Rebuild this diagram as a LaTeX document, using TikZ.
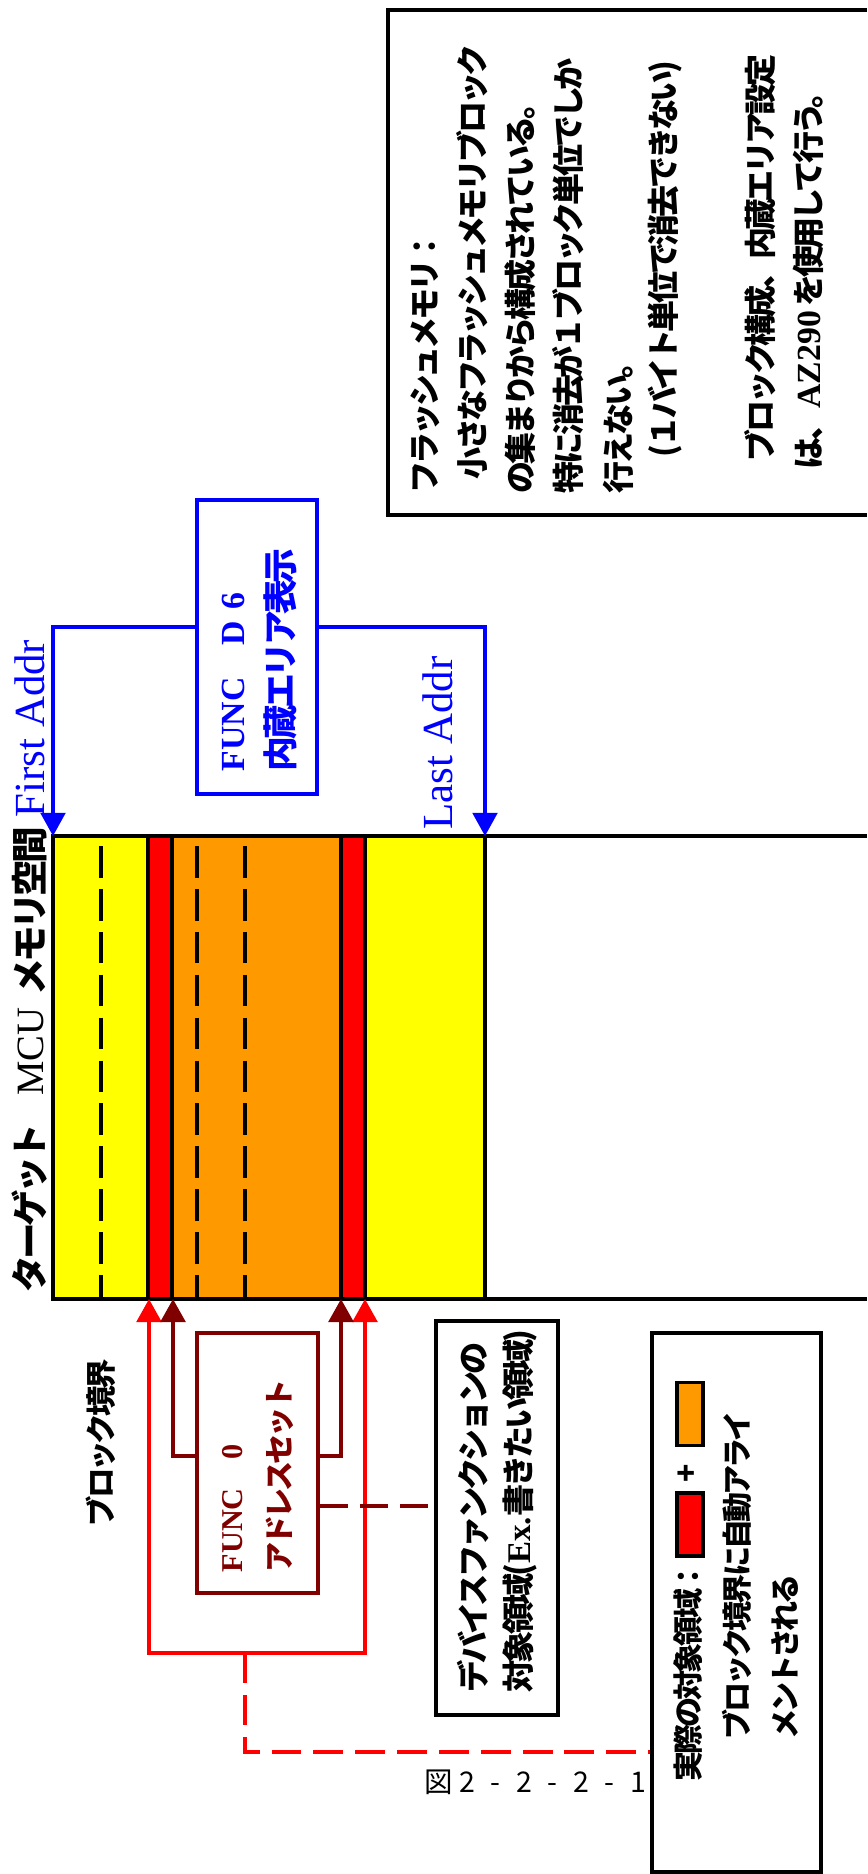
\documentclass[tikz,border=0pt]{standalone}
\usepackage{fontspec}
\setmainfont{Noto Sans CJK JP}[LetterSpace=-10]
\newfontfamily\capfont{Noto Sans CJK JP}
\newfontfamily\ser{Liberation Serif}
\usetikzlibrary{arrows.meta}
\newcommand\fsz[1]{\fontsize{#1}{#1}\selectfont}
\newcommand\capc[1]{\makebox[8.1pt]{#1}}
\definecolor{myyellow}{HTML}{FFFF00}
\definecolor{myorange}{HTML}{FF9900}
\definecolor{myred}{HTML}{FF0000}
\definecolor{mydark}{HTML}{800000}
\definecolor{myblue}{HTML}{0000FF}
\tikzset{
  >={Triangle[width=7pt,length=6.6pt]},
  memline/.style={line width=0.95pt},
  stripedash/.style={line width=1.05pt, dash pattern=on 9pt off 3.2pt},
  txt/.style={rotate=90, anchor=west, inner sep=0pt, font=\bfseries},
  lat/.style={rotate=90, anchor=west, inner sep=0pt, font=\ser\fsz{12.2pt}, text=myblue},
  bluebox/.style={draw=myblue, line width=1pt, inner sep=0pt, minimum width=1.2cm, minimum height=2.94cm},
  dkbox/.style={draw=mydark, line width=1.1pt, inner sep=0pt, minimum width=1.21cm, minimum height=2.6cm},
  blkbox/.style={draw=black, line width=1.15pt, inner sep=0pt},
  swatch/.style={draw=black, line width=0.9pt, inner sep=0pt, minimum width=0.26cm, minimum height=0.63cm},
  bluearr/.style={draw=myblue, line width=1pt, ->},
  dkarr/.style={draw=mydark, line width=1.3pt, ->},
  redarr/.style={draw=myred, line width=1.2pt, <->},
  reddash/.style={draw=myred, line width=1pt, dash pattern=on 8.5pt off 3.4pt},
  dkdash/.style={draw=mydark, line width=1pt, dash pattern=on 8pt off 3.4pt},
  notebox/.style={draw=black, line width=1pt}
}
\begin{document}
\begin{tikzpicture}[x=0.01cm,y=0.01cm]
\useasboundingbox (0,0) rectangle (867,-1874);
\fill[white] (0,0) rectangle (867,-1874);

% memory space
\fill[myyellow] (53,-836) rectangle (148,-1299);
\fill[myred] (148,-836) rectangle (172,-1299);
\fill[myorange] (172,-836) rectangle (341,-1299);
\fill[myred] (341,-836) rectangle (365,-1299);
\fill[myyellow] (365,-836) rectangle (485,-1299);
\foreach \x in {101,197,245} \draw[stripedash] (\x,-846) -- (\x,-1299);
\foreach \x in {148,172,341,365,485} \draw[memline] (\x,-836) -- (\x,-1299);
\draw[memline] (867,-836) -- (53,-836) -- (53,-1299) -- (867,-1299);

\coordinate (fa) at (53,-836);
\coordinate (la) at (485,-836);
\coordinate (ar1) at (173,-1299);
\coordinate (ar2) at (341,-1299);
\coordinate (rb1) at (149,-1299);
\coordinate (rb2) at (365,-1299);
\coordinate (rbl) at (149,-1653);
\coordinate (rbr) at (365,-1653);
\coordinate (rbm) at (245,-1653);
\coordinate (dd) at (318,-1506);
\coordinate (rd) at (652,-1752);

\node[txt] (mem) at (30,-1293) {\fsz{10.4pt}ターゲット\hspace{8pt}{\ser\mdseries\fsz{11pt}MCU}\hspace{3.5pt}メモリ空間};

% FUNC D6
\node[bluebox] (d6box) at (257,-647) {};
\node[txt, text=myblue] (d6a) at (233,-772) {\ser\fsz{9.6pt}FUNC\hspace{9pt}D\hspace{3.3pt}6};
\node[txt, text=myblue] (d6b) at (280,-772) {\fsz{9.9pt}内蔵エリア表示};
\draw[bluearr] ([yshift=0.2cm]d6box.west) -| (fa);
\draw[bluearr] ([yshift=0.2cm]d6box.east) -| (la);
\node[lat] (first) at (30,-818) {First Addr};
\node[lat] (last) at (438,-830) {Last Addr};

% note box
\draw[notebox] (867,-10) -- (388,-10) -- (388,-515) -- (867,-515);
\node[txt] (n1) at (425,-494) {\fsz{9.1pt}フラッシュメモリ：};
\node[txt] (n2) at (472,-480) {\fsz{9.1pt}小さなフラッシュメモリブロック};
\node[txt] (n3) at (520,-494) {\fsz{9.1pt}の集まりから構成されている。};
\node[txt] (n4) at (568,-494) {\fsz{9.1pt}特に消去が１ブロック単位でしか};
\node[txt] (n5) at (618,-494) {\fsz{9.1pt}行えない。};
\node[txt] (n6) at (665,-458) {\fsz{9.1pt}(１バイト単位で消去できない)};
\node[txt] (n8) at (760,-462) {\fsz{9.1pt}ブロック構成、内蔵エリア設定};
\node[txt] (n9) at (808,-470) {\fsz{9.1pt}は、{\ser\fsz{9.6pt}AZ290} を使用して行う。};

% block boundary
\node[txt] (blk) at (101,-1527) {\fsz{8.65pt}ブロック境界};
\draw[redarr] (rb1) -- (rbl) -- (rbr) -- (rb2);

% FUNC 0
\node[dkbox] (f0box) at (257.5,-1463) {};
\node[txt, text=mydark] (f0a) at (233,-1573) {\ser\fsz{8.6pt}FUNC\hspace{8.1pt}0};
\node[txt, text=mydark] (f0b) at (280,-1573) {\fsz{8.55pt}アドレスセット};
\draw[dkarr] ([yshift=0.07cm]f0box.west) -| (ar1);
\draw[dkarr] ([yshift=0.07cm]f0box.east) -| (ar2);

% device function box
\node[blkbox, minimum width=1.22cm, minimum height=3.94cm] (devbox) at (497,-1518) {};
\node[txt] (dev1) at (473,-1693) {\fsz{9.15pt}デバイスファンクションの};
\node[txt] (dev2) at (520,-1693) {\fsz{9.15pt}対象領域({\ser\fsz{9.4pt}Ex.}書きたい領域)};
\draw[dkdash] (f0box.east |- dd) -- (devbox.west |- dd);

% legend box
\node[blkbox, minimum width=1.69cm, minimum height=5.39cm] (legbox) at (736.5,-1602.5) {};
\node[txt] (leg1) at (688,-1782) {\fsz{8.55pt}実際の対象領域：};
\node[swatch, fill=myred] (swr) at (690,-1524.5) {};
\node[txt, anchor=center] (plus) at (688,-1473) {\fsz{8.55pt}+};
\node[swatch, fill=myorange] (swo) at (690,-1414) {};
\node[txt] (leg2) at (737,-1740) {\fsz{8.55pt}ブロック境界に自動アライ};
\node[txt] (leg3) at (785,-1740) {\fsz{8.55pt}メントされる};
\draw[reddash] (rbm) |- (legbox.west |- rd);

% caption
\node[anchor=west, inner sep=0pt] (cap) at (424,-1782) {\capfont\fsz{8.1pt}\capc{図}\capc{2}\capc{-}\capc{2}\capc{-}\capc{2}\capc{-}\capc{1}};
\end{tikzpicture}
\end{document}
